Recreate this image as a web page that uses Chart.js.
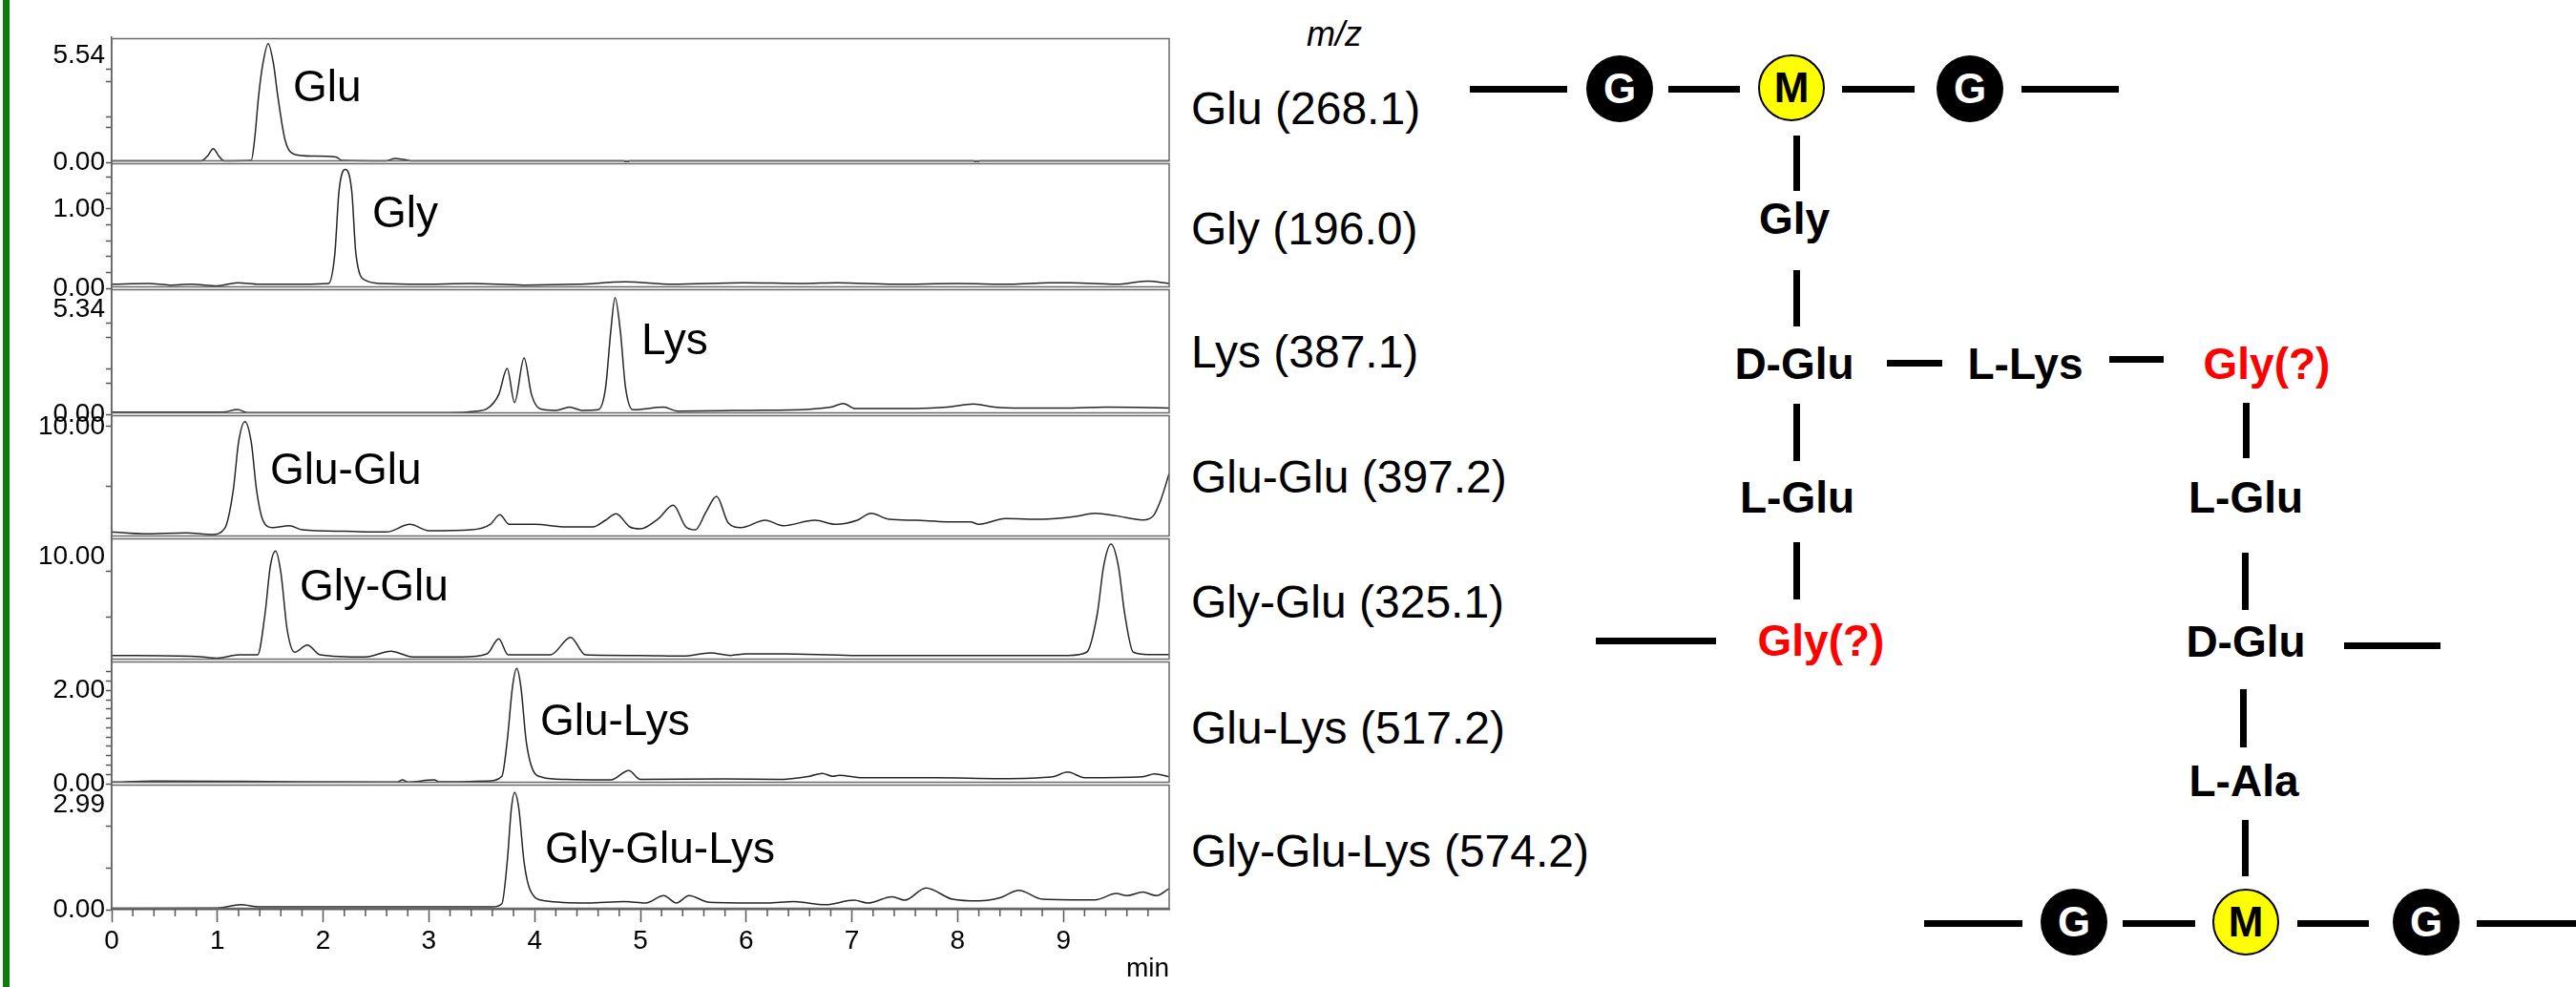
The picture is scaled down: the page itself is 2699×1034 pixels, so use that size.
<!DOCTYPE html>
<html>
<head>
<meta charset="utf-8">
<title>Extracted ion chromatograms and peptidoglycan cross-bridge</title>
<script src="https://cdn.jsdelivr.net/npm/chart.js@4.4.1/dist/chart.umd.min.js"></script>
<style>
  html, body { margin: 0; padding: 0; background: #fff; }
  #page { position: relative; width: 2699px; height: 1034px; overflow: hidden;
          font-family: "Liberation Sans", Arial, Helvetica, sans-serif; }
  #chrom { position: absolute; left: 0; top: 0; }
  .rail { position: absolute; left: 3px; top: 0; width: 7px; height: 1034px; background: #0b7d0b; }
  .t { position: absolute; white-space: nowrap; line-height: 1; color: #000; }
  .mz { font-size: 48px; }
  .mzhead { font-size: 36px; font-style: italic; }
  .aa { font-size: 46px; font-weight: bold; transform: translateX(-50%); }
  .red { color: #ff0000; }
  .hb { position: absolute; height: 7px; background: #000; }
  .vb { position: absolute; width: 7px; background: #000; }
  .sug { position: absolute; width: 70px; height: 70px; border-radius: 50%; box-sizing: border-box;
         display: flex; align-items: center; justify-content: center;
         font-weight: bold; font-size: 44px; line-height: 1; }
  .glc { background: #000; color: #fff; }
  .mur { background: #ffff00; color: #000; border: 2px solid #000; }
</style>
</head>
<body>
<div id="page">
  <canvas id="chrom" width="1240" height="1034"></canvas>
  <div class="rail"></div>
  <div id="scheme"></div>
</div>
<script>
// ---- traces: retention time (min) and intensity for each extracted ion ----
const panelNames = ['Glu', 'Gly', 'Lys', 'Glu-Glu', 'Gly-Glu', 'Glu-Lys', 'Gly-Glu-Lys'];
const mzValues   = ['268.1', '196.0', '387.1', '397.2', '325.1', '517.2', '574.2'];

const timeGlu = [0, 0.40, 0.85, 0.91, 0.96, 1.01, 1.06, 1.32, 1.35, 1.39, 1.43, 1.48, 1.53, 1.57, 1.64, 1.73, 1.90, 2.12, 2.18, 2.60, 2.68, 2.76, 2.85, 4.84, 4.87, 4.90, 8.15, 8.18, 8.21, 10];
const sigGlu  = [0.08, 0.08, 0.08, 0.35, 0.71, 0.35, 0.08, 0.10, 1.10, 3.46, 5.11, 6.15, 5.11, 3.46, 1.15, 0.41, 0.32, 0.27, 0.10, 0.08, 0.20, 0.15, 0.07, 0.07, 0.00, 0.07, 0.07, 0.00, 0.07, 0.08];

const timeGly = [0, 0.35, 0.55, 0.75, 1.0, 1.19, 1.4, 1.8, 2.05, 2.11, 2.15, 2.21, 2.27, 2.31, 2.40, 2.55, 2.9, 3.4, 3.9, 4.4, 4.86, 5.3, 5.97, 6.54, 6.86, 7.4, 8.0, 8.5, 8.86, 9.07, 9.5, 9.79, 10];
const sigGly  = [0.05, 0.06, 0.04, 0.05, 0.03, 0.07, 0.05, 0.05, 0.06, 0.43, 1.23, 1.50, 1.23, 0.43, 0.10, 0.06, 0.05, 0.06, 0.04, 0.05, 0.08, 0.05, 0.07, 0.06, 0.07, 0.05, 0.06, 0.05, 0.07, 0.07, 0.05, 0.09, 0.06];

const timeLys = [0, 1.05, 1.19, 1.28, 2.2, 3.2, 3.45, 3.55, 3.66, 3.74, 3.81, 3.90, 3.97, 4.05, 4.20, 4.33, 4.45, 4.60, 4.67, 4.72, 4.76, 4.81, 4.86, 4.93, 5.22, 5.35, 6.0, 6.6, 6.8, 6.92, 7.03, 7.6, 7.9, 8.15, 8.35, 8.6, 9.0, 9.4, 10];
const sigLys  = [0.11, 0.11, 0.24, 0.09, 0.08, 0.08, 0.16, 0.28, 1.00, 2.33, 0.60, 2.86, 1.00, 0.28, 0.20, 0.36, 0.20, 0.23, 1.33, 4.24, 5.94, 4.24, 1.33, 0.23, 0.36, 0.16, 0.20, 0.26, 0.36, 0.55, 0.29, 0.29, 0.36, 0.52, 0.36, 0.31, 0.31, 0.36, 0.32];

const timeGluGlu = [0, 0.3, 0.7, 0.95, 1.07, 1.15, 1.20, 1.26, 1.32, 1.37, 1.43, 1.52, 1.68, 1.80, 2.2, 2.6, 2.82, 3.0, 3.4, 3.58, 3.67, 3.76, 4.0, 4.3, 4.55, 4.67, 4.77, 4.9, 5.0, 5.17, 5.31, 5.43, 5.52, 5.62, 5.72, 5.83, 5.95, 6.18, 6.35, 6.65, 6.85, 7.05, 7.18, 7.35, 7.6, 7.9, 8.12, 8.2, 8.45, 8.8, 9.1, 9.3, 9.5, 9.75, 9.85, 9.92, 10];
const sigGluGlu  = [0.49, 0.32, 0.41, 0.26, 0.83, 4.28, 8.60, 10.46, 8.60, 4.28, 1.55, 0.89, 1.06, 0.69, 0.55, 0.49, 1.18, 0.60, 0.69, 1.18, 2.04, 1.18, 1.18, 0.95, 0.95, 1.55, 2.13, 0.95, 0.78, 1.70, 2.90, 0.95, 0.69, 2.30, 3.70, 1.32, 0.89, 1.55, 1.06, 1.55, 1.18, 1.55, 2.18, 1.64, 1.55, 1.41, 1.41, 1.18, 1.70, 1.64, 1.87, 2.18, 1.95, 1.58, 1.95, 3.36, 5.78];

const timeGlyGlu = [0, 0.8, 1.0, 1.2, 1.38, 1.45, 1.50, 1.55, 1.60, 1.66, 1.73, 1.85, 1.97, 2.4, 2.64, 2.85, 3.3, 3.55, 3.66, 3.75, 4.15, 4.34, 4.48, 5.0, 5.4, 5.66, 5.85, 6.0, 6.35, 7.0, 8.0, 9.05, 9.22, 9.32, 9.38, 9.45, 9.52, 9.58, 9.66, 9.8, 10];
const sigGlyGlu  = [0.49, 0.40, 0.24, 0.55, 0.55, 4.47, 9.05, 10.52, 8.44, 2.94, 0.80, 1.50, 0.55, 0.34, 0.89, 0.34, 0.34, 0.64, 2.08, 0.55, 0.55, 2.23, 0.55, 0.49, 0.43, 0.73, 0.49, 0.64, 0.64, 0.49, 0.49, 0.49, 0.80, 4.47, 9.05, 11.19, 9.05, 4.47, 0.80, 0.58, 0.58];

const timeGluLys = [0, 0.4, 1.2, 2.7, 2.75, 2.8, 3.05, 3.1, 3.55, 3.69, 3.74, 3.79, 3.83, 3.87, 3.92, 3.98, 4.07, 4.3, 4.72, 4.89, 5.0, 5.8, 6.3, 6.6, 6.72, 6.82, 6.88, 7.1, 7.8, 8.4, 8.9, 9.04, 9.2, 9.75, 9.86, 10];
const sigGluLys  = [0.035, 0.055, 0.05, 0.035, 0.08, 0.035, 0.08, 0.04, 0.055, 0.16, 0.91, 2.07, 2.47, 2.07, 0.91, 0.31, 0.14, 0.09, 0.08, 0.28, 0.09, 0.10, 0.09, 0.16, 0.22, 0.16, 0.18, 0.13, 0.13, 0.11, 0.15, 0.25, 0.13, 0.15, 0.21, 0.15];

const timeGlyGluLys = [0, 1.0, 1.22, 1.4, 3.6, 3.69, 3.74, 3.78, 3.81, 3.85, 3.90, 3.96, 4.1, 4.5, 4.85, 5.05, 5.22, 5.34, 5.46, 5.65, 6.2, 6.45, 6.75, 7.02, 7.15, 7.38, 7.5, 7.7, 7.95, 8.2, 8.4, 8.58, 8.8, 9.3, 9.5, 9.6, 9.75, 9.88, 10];
const sigGlyGluLys  = [0.04, 0.05, 0.14, 0.08, 0.08, 0.17, 1.35, 2.89, 3.34, 2.89, 1.35, 0.54, 0.25, 0.19, 0.23, 0.19, 0.40, 0.19, 0.40, 0.21, 0.19, 0.23, 0.14, 0.27, 0.19, 0.37, 0.27, 0.62, 0.30, 0.25, 0.34, 0.55, 0.30, 0.28, 0.46, 0.40, 0.50, 0.40, 0.60];

const traceTimes   = [timeGlu, timeGly, timeLys, timeGluGlu, timeGlyGlu, timeGluLys, timeGlyGluLys];
const traceSignals = [sigGlu, sigGly, sigLys, sigGluGlu, sigGlyGlu, sigGluLys, sigGlyGluLys];

// ---- intensity axes: labelled values, tick marks, full-scale of each panel ----
const axisLabelValues = [[0, 5.54], [0, 1.00], [0, 5.34], [10.00], [10.00], [0, 2.00], [0, 2.99]];
const axisMarkValues  = [
  [0, 1.83, 2.37, 4.20, 4.80],
  [0, 0.2, 0.4, 0.6, 0.8, 1.0, 1.2, 1.4],
  [0, 1.60, 2.33, 3.93, 4.66],
  [4.57, 10],
  [4.13, 8.62],
  [0, 0.2, 0.4, 0.6, 0.8, 1.0, 1.2, 1.4, 1.6, 1.8, 2.0, 2.2, 2.4],
  [0, 1.185, 2.375]
];
const axisMax = [6.48, 1.59, 6.41, 11.12, 11.83, 2.64, 3.59];
const minuteLabels = [0, 1, 2, 3, 4, 5, 6, 7, 8, 9];

// ---- layout constants ----
const FONT = '"Liberation Sans", Arial, Helvetica, sans-serif';
const panelWeights = [131, 132, 132, 129, 129, 129, 132];
// where each peak name sits: [minutes, intensity on that panel's axis]
const peakNameAnchors = [[1.715, 3.17], [2.464, 0.77], [5.009, 3.06], [1.498, 4.83], [1.778, 5.78], [4.052, 1.04], [4.097, 1.33]];

Chart.defaults.font.family = FONT;

const near = (a, b) => Math.abs(a - b) < 1e-6;

const scales = {};
panelNames.forEach((name, i) => {
  const labelled = axisLabelValues[i];
  const marks = axisMarkValues[i];
  const all = Array.from(new Set(labelled.concat(marks))).sort((a, b) => a - b);
  scales['y' + i] = {
    type: 'linear',
    position: 'left',
    stack: 'ions',
    stackWeight: panelWeights[i],
    weight: panelNames.length - i,
    min: 0,
    max: axisMax[i],
    afterBuildTicks: s => { s.ticks = all.map(v => ({ value: v })); },
    afterFit: s => { s.width = 117; },
    ticks: {
      autoSkip: false,
      padding: 1,
      color: '#000',
      font: { size: 28, family: FONT },
      callback: v => {
        const hit = labelled.find(l => near(l, v));
        return hit === undefined ? '' : hit.toFixed(2);
      }
    },
    grid: {
      drawOnChartArea: false,
      drawTicks: true,
      tickLength: 6,
      tickWidth: 1.5,
      tickColor: ctx => (ctx.tick && marks.some(m => near(m, ctx.tick.value))) ? '#555' : 'rgba(0,0,0,0)'
    },
    border: { display: true, color: '#5a5a5a', width: 1.5 }
  };
});

scales.x = {
  type: 'linear',
  position: 'bottom',
  min: 0,
  max: 10,
  afterBuildTicks: s => { s.ticks = minuteLabels.map(v => ({ value: v })); },
  afterFit: s => { s.height = 81; },
  ticks: { autoSkip: false, maxRotation: 0, padding: 3, color: '#000', font: { size: 28, family: FONT },
           callback: v => String(v) },
  grid: { drawOnChartArea: false, drawTicks: true, tickLength: 13, tickWidth: 1.5, tickColor: '#555' },
  border: { display: true, color: '#5a5a5a', width: 1.5 },
  title: { display: true, text: 'min', align: 'end', color: '#000', font: { size: 28, family: FONT },
           padding: { top: 0, bottom: 2 } }
};

// frames around each panel, minor minute ticks, and the peak names
const panelDecor = {
  id: 'panelDecor',
  afterDatasetsDraw(chart) {
    const { ctx, chartArea: a } = chart;
    const sx = chart.scales.x;
    ctx.save();
    ctx.strokeStyle = '#6a6a6a';
    ctx.lineWidth = 1.5;
    panelNames.forEach((_, i) => {
      const s = chart.scales['y' + i];
      ctx.strokeRect(a.left, s.top + 1.5, a.right - a.left, s.bottom - s.top - 3);
    });
    ctx.strokeStyle = '#555';
    for (let k = 1; k < 50; k++) {
      if (k % 5 === 0) continue;
      const px = sx.getPixelForValue(k / 5);
      ctx.beginPath();
      ctx.moveTo(px, a.bottom);
      ctx.lineTo(px, a.bottom + 7);
      ctx.stroke();
    }
    ctx.fillStyle = '#000';
    ctx.font = '46px ' + FONT;
    ctx.textAlign = 'left';
    ctx.textBaseline = 'alphabetic';
    panelNames.forEach((name, i) => {
      const [t, v] = peakNameAnchors[i];
      ctx.fillText(name, sx.getPixelForValue(t), chart.scales['y' + i].getPixelForValue(v));
    });
    ctx.restore();
  }
};

new Chart(document.getElementById('chrom'), {
  type: 'line',
  data: {
    datasets: panelNames.map((name, i) => ({
      label: name,
      yAxisID: 'y' + i,
      xAxisID: 'x',
      data: traceTimes[i].map((t, j) => ({ x: t, y: traceSignals[i][j] })),
      borderColor: '#262626',
      borderWidth: 1.5,
      pointRadius: 0,
      fill: false,
      cubicInterpolationMode: 'monotone'
    }))
  },
  options: {
    responsive: false,
    devicePixelRatio: 1,
    animation: false,
    layout: { padding: { left: 0, right: 15, top: 39, bottom: 0 } },
    plugins: { legend: { display: false }, tooltip: { enabled: false } },
    scales
  },
  plugins: [panelDecor]
});

// ---- m/z column and cross-bridge scheme ----
const scheme = document.getElementById('scheme');
function addText(text, cls, x, baseline, size) {
  const d = document.createElement('div');
  d.className = 't ' + cls;
  d.textContent = text;
  d.style.left = x + 'px';
  d.style.top = (baseline - 0.8465 * size) + 'px';
  scheme.appendChild(d);
}
function addBar(cls, x, y, len) {
  const d = document.createElement('div');
  d.className = cls;
  if (cls === 'hb') { d.style.left = x + 'px'; d.style.top = (y - 3.5) + 'px'; d.style.width = len + 'px'; }
  else { d.style.left = (x - 3.5) + 'px'; d.style.top = y + 'px'; d.style.height = len + 'px'; }
  scheme.appendChild(d);
}
function addSugar(letter, cx, cy) {
  const d = document.createElement('div');
  d.className = 'sug ' + (letter === 'M' ? 'mur' : 'glc');
  d.textContent = letter;
  d.style.left = (cx - 35) + 'px';
  d.style.top = (cy - 35) + 'px';
  scheme.appendChild(d);
}

addText('m/z', 'mzhead', 1369, 48, 36);
const mzBaselines = [131, 257, 386, 517, 648, 780, 909];
panelNames.forEach((name, i) => addText(name + ' (' + mzValues[i] + ')', 'mz', 1248, mzBaselines[i], 48));

[['Gly', 1880, 245, ''], ['D-Glu', 1880, 397, ''], ['L-Lys', 2122, 397, ''], ['Gly(?)', 2375, 397, ' red'],
 ['L-Glu', 1883, 537, ''], ['L-Glu', 2353, 537, ''], ['Gly(?)', 1908, 687, ' red'], ['D-Glu', 2353, 688, ''],
 ['L-Ala', 2351, 834, '']].forEach(([t, x, b, c]) => addText(t, 'aa' + c, x, b, 46));

[[1540, 93.5, 102], [1748, 93.5, 75], [1930, 93.5, 76], [2118, 93.5, 102],
 [1977, 380.5, 58], [2210, 376.5, 57], [1672, 671.5, 126], [2456, 676.5, 101],
 [2016, 967.5, 103], [2224, 967.5, 76], [2407, 967.5, 75], [2595, 967.5, 104]].forEach(([x, y, l]) => addBar('hb', x, y, l));

[[1882, 142, 58], [1882, 283, 59], [1882, 423, 60], [2353, 422, 58],
 [1882, 568, 60], [2352, 579, 60], [2350, 722, 61], [2352, 859, 59]].forEach(([x, y, l]) => addBar('vb', x, y, l));

[['G', 1697, 92.5], ['M', 1877, 92], ['G', 2064, 92.5], ['G', 2173, 966], ['M', 2353, 966], ['G', 2542, 966]]
  .forEach(([l, x, y]) => addSugar(l, x, y));
</script>
</body>
</html>
